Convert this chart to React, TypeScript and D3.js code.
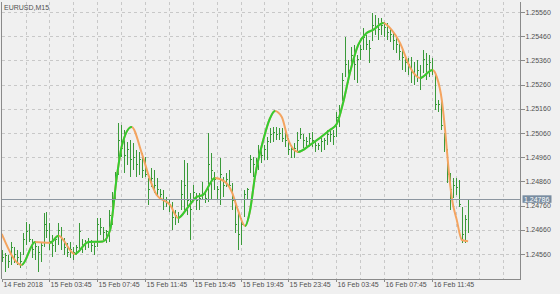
import React from 'react';
import * as d3 from 'd3';

const TITLE = 'EURUSD,M15';
const LAST_PRICE = 1.24786;

// price ticks on the right axis
const Y_TICKS = [1.2456, 1.2466, 1.2476, 1.2486, 1.2496, 1.2506, 1.2516, 1.2526, 1.2536, 1.2546, 1.2556];

// time axis labels (bar index of each label)
const X_TICK_INDEX = [0, 16, 32, 48, 64, 80, 96, 112, 128, 144];
const X_TICK_LABELS = ['14 Feb 2018', '15 Feb 03:45', '15 Feb 07:45', '15 Feb 11:45', '15 Feb 15:45', '15 Feb 19:45', '15 Feb 23:45', '16 Feb 03:45', '16 Feb 07:45', '16 Feb 11:45'];

// OHLC in points (1e-5)
const OPEN = [124560,124544,124552,124527,124585,124556,124544,124556,124618,124651,124618,124577,124593,124568,124597,124680,124659,124610,124597,124618,124659,124618,124585,124568,124577,124568,124585,124618,124597,124606,124610,124597,124589,124680,124668,124647,124651,124721,124791,124887,125031,124998,124969,124990,124949,124957,124928,124949,124907,124874,124837,124874,124845,124825,124804,124783,124771,124763,124709,124721,124742,124804,124845,124783,124791,124812,124783,124791,124804,124791,124928,124895,124837,124825,124878,124845,124866,124845,124783,124680,124639,124713,124804,124895,124949,124928,124940,124969,124969,124990,125023,125052,125064,125052,125060,125039,125031,124990,124990,124998,125039,125052,125031,125023,125039,125031,125010,125010,125023,125031,125052,125052,125044,125122,125196,125292,125341,125333,125382,125341,125362,125403,125453,125424,125444,125506,125494,125486,125506,125494,125477,125465,125444,125424,125395,125370,125353,125341,125312,125300,125320,125312,125362,125341,125353,125312,125176,125176,125060,124990,124887,124825,124845,124833,124754,124639,124701];
const HIGH = [124577,124564,124556,124610,124589,124577,124568,124647,124692,124684,124618,124606,124593,124610,124730,124734,124688,124639,124626,124688,124672,124626,124606,124610,124589,124597,124688,124618,124618,124626,124618,124610,124709,124709,124672,124659,124742,124816,124899,125101,125093,125072,125023,125031,125019,124990,124982,124977,124961,124874,124915,124907,124874,124825,124825,124796,124783,124775,124742,124734,124866,124949,124936,124812,124845,124812,124812,124858,124812,125060,124977,124895,124837,124957,124878,124895,124907,124853,124783,124730,124709,124825,124833,124969,124961,124957,125010,125002,125010,125044,125081,125085,125085,125081,125081,125064,125039,125010,125019,125064,125081,125052,125044,125060,125064,125031,125019,125039,125039,125072,125077,125072,125147,125176,125308,125457,125362,125415,125424,125382,125424,125494,125465,125444,125556,125548,125535,125535,125519,125515,125494,125477,125453,125432,125411,125382,125370,125374,125353,125362,125341,125403,125391,125382,125370,125312,125196,125196,125060,124990,124895,124874,124874,124866,124754,124721,124788];
const LOW = [124527,124486,124502,124515,124523,124515,124502,124556,124597,124610,124544,124535,124486,124527,124589,124626,124577,124548,124568,124597,124577,124556,124548,124544,124535,124556,124568,124564,124577,124585,124568,124556,124589,124639,124618,124606,124610,124680,124783,124887,124961,124895,124928,124878,124907,124878,124887,124874,124878,124763,124837,124812,124796,124783,124742,124754,124734,124659,124680,124688,124742,124734,124721,124618,124791,124742,124742,124783,124771,124775,124783,124825,124783,124763,124796,124837,124833,124742,124647,124577,124597,124713,124783,124895,124878,124895,124907,124936,124949,124949,125019,125023,125031,125031,125023,125002,124969,124957,124957,124977,125039,124998,124998,125002,125002,124982,124990,124982,124990,125010,125023,125010,125044,125085,125196,125292,125267,125333,125279,125267,125362,125403,125403,125349,125444,125465,125444,125465,125457,125444,125436,125403,125391,125362,125320,125312,125300,125267,125258,125271,125238,125312,125279,125292,125300,125155,125147,125072,124982,124853,124742,124791,124804,124754,124606,124606,124647];
const CLOSE = [124544,124552,124527,124585,124556,124544,124527,124618,124651,124618,124577,124593,124568,124597,124680,124659,124610,124597,124618,124659,124618,124585,124568,124577,124568,124585,124651,124597,124606,124610,124597,124589,124680,124668,124647,124651,124721,124791,124874,125031,124998,124969,124990,124949,124957,124928,124949,124907,124887,124825,124874,124845,124825,124804,124783,124771,124763,124709,124721,124709,124804,124845,124783,124742,124816,124783,124791,124804,124791,124928,124907,124866,124825,124887,124845,124866,124845,124783,124680,124639,124680,124804,124825,124949,124928,124940,124969,124969,124990,125023,125052,125064,125052,125060,125039,125031,124990,124990,124998,125031,125052,125031,125023,125039,125031,125010,125010,125023,125031,125052,125052,125044,125122,125155,125279,125341,125320,125382,125341,125362,125403,125453,125424,125411,125506,125494,125486,125506,125494,125477,125465,125444,125424,125395,125370,125353,125341,125312,125300,125320,125287,125362,125341,125353,125320,125176,125176,125093,125031,124887,124825,124845,124833,124763,124639,124701,124786];

// smoothed indicator: key points (bar index, price in points)
const LINE_IDX = [0, 6.7, 11.15, 16.2, 19, 24.5, 29, 33.9, 36.3, 38.5, 40.3, 43.5, 46.9, 49.7, 51.9, 56.4, 59.1, 62.4, 65.3, 67.4, 71.4, 74.8, 77.1, 79.1, 81.5, 83.2, 84.8, 87.6, 89.9, 91.5, 93.8, 96, 99.3, 103.2, 109.9, 112.2, 114.4, 116.6, 119.4, 122.2, 124.4, 127.8, 130.6, 133.4, 136.7, 140.1, 144.3, 145.7, 147.4, 148.5, 149.6, 150.7, 152.4, 154.1, 156.2];
const LINE_VAL = [124643, 124515, 124610, 124606, 124635, 124560, 124610, 124612, 124659, 124874, 125010, 125085, 124977, 124866, 124804, 124763, 124709, 124754, 124796, 124804, 124874, 124858, 124816, 124742, 124676, 124742, 124878, 125031, 125122, 125151, 125126, 125031, 124982, 125010, 125072, 125097, 125188, 125308, 125424, 125473, 125486, 125515, 125486, 125432, 125333, 125287, 125320, 125292, 125196, 125072, 124919, 124795, 124701, 124618, 124613];

const W = 560, H = 294;
const PL = 1.7, PR = 520.5, PT = 1.5, PB = 279.3;

export default function App() {
  const x = d3.scaleLinear().domain([0, 156]).range([1.7, 467.5]);
  const y = d3.scaleLinear().domain([1.2456, 1.2556]).range([254, 12]);
  const bars = OPEN.map((o, i) => ({ i, o: o / 1e5, h: HIGH[i] / 1e5, l: LOW[i] / 1e5, c: CLOSE[i] / 1e5 }));
  const pts = LINE_IDX.map((t, k) => ({ t, v: LINE_VAL[k] / 1e5 }));
  const line = d3.line<{ t: number; v: number }>().x(d => x(d.t)).y(d => y(d.v)).curve(d3.curveMonotoneX);
  const pathD = line(pts) || '';
  const rising: [number, number][] = [];
  for (let k = 0; k < pts.length - 1; k++) {
    if (pts[k + 1].v > pts[k].v) rising.push([x(pts[k].t), x(pts[k + 1].t)]);
  }
  const vgrid: number[] = [];
  for (let k = 1; k < 22; k++) {
    const gx = x(k * 8);
    if (gx < PR) vgrid.push(gx);
  }
  const font = 'Liberation Sans, Arial, sans-serif';
  const lastY = y(LAST_PRICE);
  return (
    <svg width={W} height={H} style={{ position: 'absolute', left: 0, top: 0, background: '#f0f0f0' }}>
      <rect x={0} y={0} width={W} height={H} fill="#f0f0f0" />
      <defs>
        <clipPath id="plotclip"><rect x={PL} y={PT} width={PR - PL} height={PB - PT} /></clipPath>
        <clipPath id="riseclip">
          {rising.map((r, k) => <rect key={k} x={r[0]} y={0} width={r[1] - r[0] + 0.3} height={H} />)}
        </clipPath>
      </defs>
      {/* grid */}
      <g stroke="#c8c8c8" strokeWidth={1} strokeDasharray="3,3" shapeRendering="crispEdges">
        {Y_TICKS.map(t => <line key={t} x1={PL} x2={PR} y1={Math.round(y(t)) + 0.5} y2={Math.round(y(t)) + 0.5} />)}
        {vgrid.map(g => <line key={g} x1={Math.round(g) + 0.5} x2={Math.round(g) + 0.5} y1={PT} y2={PB} />)}
      </g>
      <g clipPath="url(#plotclip)">
        {/* bars */}
        <g stroke="#3a9a3a" strokeWidth={1} shapeRendering="crispEdges">
          {bars.map(b => {
            const bx = Math.round(x(b.i)) + 0.5;
            return (
              <g key={b.i}>
                <line x1={bx} x2={bx} y1={y(b.h)} y2={y(b.l)} />
                <line x1={bx - 1} x2={bx} y1={y(b.o)} y2={y(b.o)} />
                <line x1={bx} x2={bx + 1} y1={y(b.c)} y2={y(b.c)} />
              </g>
            );
          })}
        </g>
        {/* indicator */}
        <path d={pathD} fill="none" stroke="#f4a460" strokeWidth={2} />
        <path d={pathD} fill="none" stroke="#32cd32" strokeWidth={2} clipPath="url(#riseclip)" />
        {/* last price line */}
        <line x1={PL} x2={PR} y1={Math.round(lastY) + 0.5} y2={Math.round(lastY) + 0.5} stroke="#8c96a0" strokeWidth={1} />
      </g>
      {/* frame */}
      <g stroke="#8a8a8a" strokeWidth={1} fill="none" shapeRendering="crispEdges">
        <line x1={PR} x2={PR} y1={PT} y2={PB} />
        <line x1={PL} x2={PR} y1={PB} y2={PB} />
        <line x1={PL} x2={PL} y1={PT} y2={PB} />
      </g>
      {/* y axis */}
      <g fontFamily={font} fontSize={7} fill="#505050">
        {Y_TICKS.map(t => (
          <g key={t}>
            <line x1={PR} x2={PR + 4} y1={Math.round(y(t)) + 0.5} y2={Math.round(y(t)) + 0.5} stroke="#8a8a8a" shapeRendering="crispEdges" />
            <text x={PR + 5} y={y(t) + 2.5}>{t.toFixed(5)}</text>
          </g>
        ))}
      </g>
      {/* last price label */}
      <rect x={522.5} y={lastY - 4} width={29} height={7.5} fill="#788ca0" />
      <text x={524} y={lastY + 2.5} fontFamily={font} fontSize={7} fill="#ffffff">{LAST_PRICE.toFixed(5)}</text>
      {/* x axis */}
      <g fontFamily={font} fontSize={7} fill="#505050">
        {X_TICK_INDEX.map((ti, k) => {
          const tx = Math.round(x(ti)) + 0.5;
          return (
            <g key={ti}>
              <line x1={tx} x2={tx} y1={PB} y2={PB + 3} stroke="#8a8a8a" shapeRendering="crispEdges" />
              <text x={tx + 1} y={286.5}>{X_TICK_LABELS[k]}</text>
            </g>
          );
        })}
      </g>
      <text x={4} y={9.5} fontFamily={font} fontSize={7} fill="#505050">{TITLE}</text>
    </svg>
  );
}
